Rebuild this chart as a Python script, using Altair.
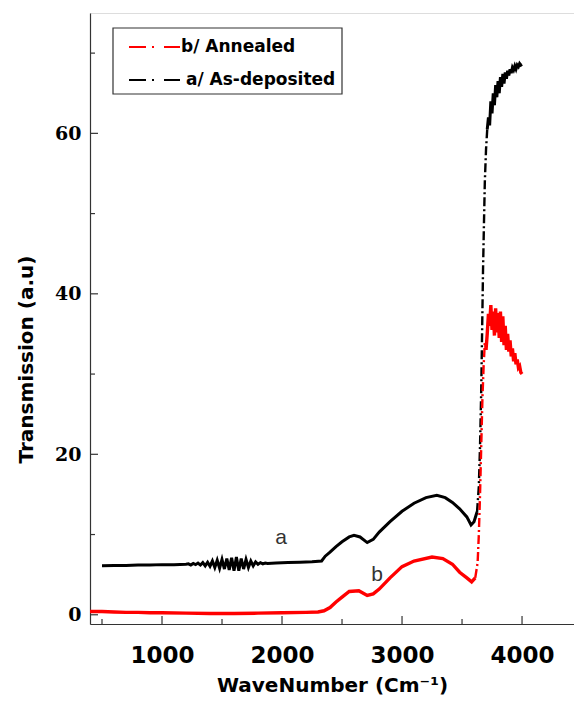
import altair as alt
import pandas as pd

# ---- data ----
a_wn = [500, 600, 700, 800, 900, 1000, 1100, 1200, 1220, 1240, 1260, 1280, 1300, 1320, 1340,
        1360, 1380, 1400, 1420, 1440, 1460, 1480, 1500, 1520, 1540, 1560, 1580, 1600, 1620,
        1640, 1660, 1680, 1700, 1720, 1740, 1760, 1780, 1800, 1820, 1840, 1860, 1880, 1950,
        2050, 2150, 2250, 2330, 2360, 2400, 2450, 2500, 2560, 2600, 2650, 2710, 2760, 2810,
        2900, 3000, 3100, 3200, 3290, 3360, 3420, 3480, 3540, 3575, 3600, 3625, 3640, 3650,
        3660, 3668, 3675, 3683, 3690, 3700, 3710, 3720, 3730, 3740, 3750, 3760, 3770, 3780,
        3790, 3800, 3810, 3820, 3830, 3840, 3850, 3860, 3870, 3880, 3890, 3900, 3910, 3920,
        3930, 3940, 3950, 3960, 3970, 3980, 3990, 4000]
a_t = [6.1, 6.15, 6.15, 6.2, 6.2, 6.25, 6.25, 6.3, 6.35, 6.2, 6.4, 6.25, 6.45, 6.2, 6.5,
       6.1, 6.55, 6.05, 6.7, 5.9, 6.8, 5.8, 6.9, 5.7, 7.0, 5.6, 7.1, 5.5, 7.2,
       5.5, 7.0, 5.7, 6.9, 5.9, 6.7, 6.1, 6.6, 6.3, 6.5, 6.35, 6.45, 6.4, 6.45,
       6.5, 6.55, 6.6, 6.7, 7.3, 7.8, 8.5, 9.1, 9.7, 9.9, 9.7, 9.0, 9.4, 10.3,
       11.6, 12.9, 13.9, 14.6, 14.9, 14.6, 14.0, 13.2, 12.2, 11.2, 11.6, 12.8, 16.0, 21.0,
       28.0, 36.0, 43.0, 49.0, 54.0, 58.0, 60.5, 62.0, 61.0, 64.0, 62.5, 65.0, 63.5, 66.0,
       64.5, 66.5, 65.0, 67.0, 65.8, 67.4, 66.2, 67.6, 66.8, 67.8, 67.2, 68.0, 67.5, 68.2,
       67.9, 68.4, 68.0, 68.5, 68.3, 68.7, 68.5, 68.6]

b_wn = [400, 500, 600, 700, 800, 900, 1000, 1200, 1400, 1600, 1800, 2000, 2200, 2300, 2350,
        2400, 2450, 2500, 2560, 2640, 2710, 2760, 2810, 2900, 3000, 3100, 3250, 3340, 3420,
        3480, 3540, 3580, 3610, 3630, 3640, 3650, 3660, 3670, 3680, 3690, 3700, 3710, 3720,
        3730, 3740, 3750, 3760, 3770, 3780, 3790, 3800, 3810, 3820, 3830, 3840, 3850, 3860,
        3870, 3880, 3890, 3900, 3910, 3920, 3930, 3940, 3950, 3960, 3970, 3980, 3990, 4000]
b_t = [0.4, 0.4, 0.35, 0.3, 0.3, 0.25, 0.25, 0.2, 0.15, 0.15, 0.2, 0.25, 0.3, 0.35, 0.5,
       0.9, 1.6, 2.2, 2.9, 3.0, 2.4, 2.6, 3.2, 4.6, 6.0, 6.7, 7.2, 7.0, 6.3,
       5.3, 4.6, 4.1, 4.6, 6.5, 10.0, 15.0, 21.0, 27.0, 31.0, 34.0, 33.0, 35.0, 37.5,
       36.0, 38.6, 35.5, 37.8, 34.8, 38.2, 35.2, 37.6, 34.5, 37.8, 34.0, 37.2, 33.6, 36.0,
       33.0, 35.0, 32.8, 34.2, 32.2, 33.2, 31.6, 32.6, 31.2, 31.8, 30.8, 31.0, 30.2, 30.0]

series_names = ["b/ Annealed", "a/ As-deposited"]
series_colors = ["#ff0000", "#000000"]

# wavenumber ranges of the steep rise, drawn dash-dot like the original markers
a_rise = [3625, 3710]
b_rise = [3610, 3700]

x_major = [1000, 2000, 3000, 4000]
x_minor = [500, 1500, 2500, 3500]
y_major = [0, 20, 40, 60]
y_minor = [10, 30, 50, 70]

ann_labels = ["a", "b"]
ann_wn = [1992, 2792]
ann_t = [9.6, 5.0]

# ---- tables ----
df_a = pd.DataFrame({"wn": a_wn, "t": a_t})
df_b = pd.DataFrame({"wn": b_wn, "t": b_t})

W, H = 484, 611
xscale = alt.Scale(domain=[400, 4433], nice=False, zero=False)
yscale = alt.Scale(domain=[-1.15, 75], nice=False, zero=False)

xaxis = alt.Axis(values=x_major, format="d", title="WaveNumber (Cm⁻¹)",
                 labelFont="DejaVu Sans", labelFontWeight="bold", labelFontSize=23,
                 labelColor="black", labelPadding=20, ticks=False, tickSize=0,
                 titleFont="DejaVu Sans", titleFontWeight="bold", titleFontSize=20,
                 titleColor="black", titlePadding=8, grid=False,
                 domainColor="#333", domainWidth=1.2)
yaxis = alt.Axis(values=y_major, format="d", title="Transmission (a.u)",
                 labelFont="DejaVu Serif", labelFontWeight="bold", labelFontSize=19,
                 labelColor="black", labelPadding=9, ticks=False, tickSize=0,
                 titleFont="DejaVu Sans", titleFontWeight="bold", titleFontSize=20,
                 titleColor="black", titlePadding=18, titleY=346, grid=False,
                 domainColor="#333", domainWidth=1.2)

X = alt.X("wn:Q", scale=xscale, axis=xaxis)
Y = alt.Y("t:Q", scale=yscale, axis=yaxis)


def seg(df, lo, hi, color, width, dash=None):
    d = df[(df.wn >= lo) & (df.wn <= hi)]
    kw = dict(color=color, strokeWidth=width, clip=True)
    if dash:
        kw["strokeDash"] = dash
    return alt.Chart(d).mark_line(**kw).encode(x=X, y=Y)


def curve(df, rise, color, width):
    return [
        seg(df, 0, rise[0], color, width),
        seg(df, rise[0], rise[1], color, 2.4, [9, 3, 2, 3]),
        seg(df, rise[1], 5000, color, width),
    ]


def xticks(vals, length):
    return alt.Chart(pd.DataFrame({"wn": vals})).mark_rule(color="#333", strokeWidth=1.2).encode(
        x=X, y=alt.value(H), y2=alt.value(H - length),
    )


def yticks(vals, length):
    return alt.Chart(pd.DataFrame({"t": vals})).mark_rule(color="#333", strokeWidth=1.2).encode(
        y=Y, x=alt.value(0), x2=alt.value(length),
    )


ann = alt.Chart(pd.DataFrame({"lab": ann_labels, "wn": ann_wn, "t": ann_t})).mark_text(
    font="Liberation Sans", fontSize=21, color="#333", align="center", baseline="middle"
).encode(x=X, y=Y, text="lab:N")

# ---- legend box (drawn by hand) ----
leg_df = pd.DataFrame({"name": series_names, "color": series_colors})
leg_box = alt.Chart(leg_df.head(1)).mark_rect(
    fill="white", stroke="#333", strokeWidth=1.2
).encode(x=alt.value(23), x2=alt.value(252), y=alt.value(15), y2=alt.value(81))

leg_rows = [34, 67]
leg_text_x = [91, 96]
leg_items = []
for i, (name, col) in enumerate(zip(series_names, series_colors)):
    row = leg_df.iloc[[i]]
    leg_items.append(
        alt.Chart(row).mark_rule(color=col, strokeWidth=1.8, strokeDash=[17, 6, 2, 10]).encode(
            x=alt.value(39), x2=alt.value(90), y=alt.value(leg_rows[i])
        )
    )
    leg_items.append(
        alt.Chart(row).mark_text(
            font="DejaVu Sans", fontWeight="bold", fontSize=17, color="black",
            align="left", baseline="middle"
        ).encode(x=alt.value(leg_text_x[i]), y=alt.value(leg_rows[i]), text="name:N")
    )

layers = [xticks(x_major, 8), xticks(x_minor, 5), yticks(y_major, 8), yticks(y_minor, 5)]
layers += curve(df_a, a_rise, series_colors[1], 3)
layers += curve(df_b, b_rise, series_colors[0], 3.4)
layers += [ann, leg_box] + leg_items

chart = alt.layer(*layers).properties(
    width=W, height=H,
    autosize=alt.AutoSizeParams(type="none"),
    padding={"left": 82, "top": 5, "right": 0, "bottom": 75},
).configure_view(stroke=None).configure(background="white")

chart.save("out.html", embed_options={"renderer": "svg", "actions": False})
